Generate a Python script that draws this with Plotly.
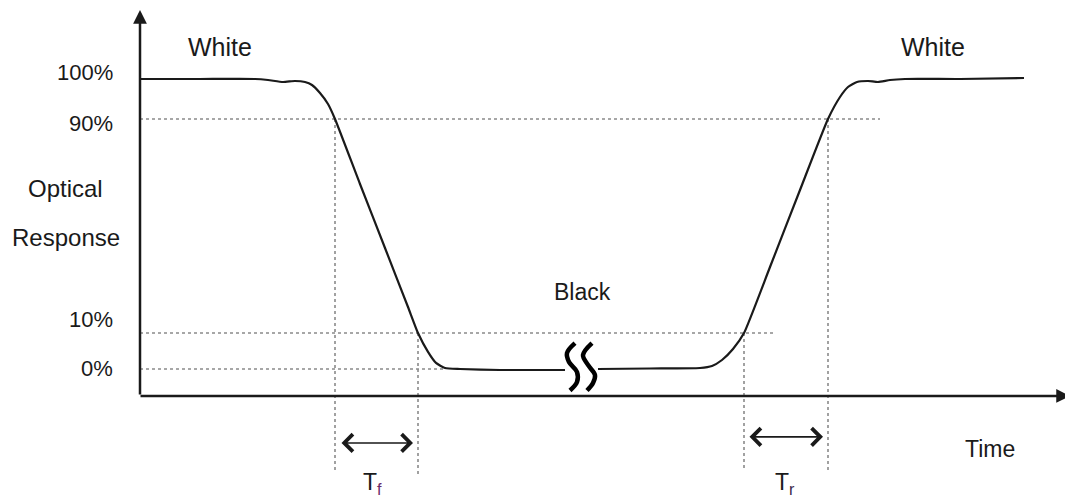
import plotly.graph_objects as go

# ---------------- data (schematic units: time t, optical response r in %) ----------------
fall_t = [0, 6, 11.5, 12.8, 14.3, 15.5, 16.5, 17.2, 18.0, 18.8, 19.5, 22.0, 24.5, 26.8, 27.8, 28.8, 29.6, 30.5, 32.0, 36.0, 42.5]
fall_r = [100, 100, 100, 99.66, 98.97, 99.31, 98.97, 97.93, 95.17, 91.38, 86.21, 63.79, 41.72, 21.38, 12.41, 5.9, 2.1, 0.34, 0.0, -0.34, -0.34]

rise_t = [45.8, 51.0, 56.0, 57.2, 58.2, 59.3, 60.4, 63.0, 66.0, 68.8, 70.0, 70.8, 71.7, 72.8, 73.8, 75.0, 76.5, 82.0, 88.4]
rise_r = [0.0, 0.17, 0.34, 1.03, 3.10, 6.90, 12.41, 35.17, 61.72, 86.21, 93.79, 97.24, 98.97, 99.31, 98.97, 99.66, 100, 100, 100.34]

# reference levels (response %) and where they sit on the schematic axis
level_labels = ["100%", "90%", "10%", "0%"]
level_pos = [100, 86.2, 12.4, 0]

# measurement markers
t90_fall, t10_fall = 19.5, 27.8
t10_rise, t90_rise = 60.4, 68.8

# break symbol strokes
brk1_t = [43.5, 42.7, 42.9, 43.7, 43.7, 43.0]
brk1_r = [8.9, 5.5, 2.4, -1.0, -4.5, -7.4]
brk2_t = [45.2, 44.3, 44.8, 45.5, 45.3, 44.7]
brk2_r = [8.9, 4.8, 1.4, -2.1, -4.8, -7.4]

# ---------------- figure ----------------
INK = "#1a1a1a"
DOT = "#8a8a8a"
FONT = "Liberation Sans, Arial, sans-serif"

fig = go.Figure()

def dotted(xs, ys):
    fig.add_trace(go.Scatter(x=xs, y=ys, mode="lines",
                             line=dict(color=DOT, width=1.6, dash="dot"),
                             hoverinfo="skip", showlegend=False))

# horizontal guides
dotted([0, 74.0], [level_pos[1], level_pos[1]])
dotted([0, 63.5], [level_pos[2], level_pos[2]])
dotted([0, 30.5], [level_pos[3], level_pos[3]])
# vertical guides
dotted([t90_fall, t90_fall], [level_pos[1], -35.2])
dotted([t10_fall, t10_fall], [level_pos[2], -36.2])
dotted([t10_rise, t10_rise], [level_pos[2], -35.2])
dotted([t90_rise, t90_rise], [level_pos[1], -35.2])

# response curve
for xs, ys in [(fall_t, fall_r), (rise_t, rise_r)]:
    fig.add_trace(go.Scatter(x=xs, y=ys, mode="lines",
                             line=dict(color=INK, width=2.2, shape="spline", smoothing=0.5),
                             hoverinfo="skip", showlegend=False))
# break symbol
for xs, ys in [(brk1_t, brk1_r), (brk2_t, brk2_r)]:
    fig.add_trace(go.Scatter(x=xs, y=ys, mode="lines",
                             line=dict(color="#000", width=4.5, shape="spline", smoothing=1.0),
                             hoverinfo="skip", showlegend=False))

ann = []
# axes arrows
ann.append(dict(x=0, y=123.8, ax=0, ay=-9.3, xref="x", yref="y", axref="x", ayref="y", text="",
                showarrow=True, arrowhead=2, arrowsize=1.1, arrowwidth=2.5, arrowcolor=INK))
ann.append(dict(x=93.0, y=-9.3, ax=-0.1, ay=-9.3, xref="x", yref="y", axref="x", ayref="y", text="",
                showarrow=True, arrowhead=2, arrowsize=1.1, arrowwidth=2.5, arrowcolor=INK))
# Tf / Tr double arrows
ann.append(dict(x=27.3, y=-25.5, ax=20.0, ay=-25.5, xref="x", yref="y", axref="x", ayref="y", text="",
                showarrow=True, arrowhead=4, startarrowhead=4, arrowside="end+start",
                arrowsize=2.1, startarrowsize=2.1, arrowwidth=1.6, arrowcolor=INK))
ann.append(dict(x=68.3, y=-23.4, ax=60.8, ay=-23.4, xref="x", yref="y", axref="x", ayref="y", text="",
                showarrow=True, arrowhead=4, startarrowhead=4, arrowside="end+start",
                arrowsize=2.1, startarrowsize=2.1, arrowwidth=1.6, arrowcolor=INK))

def label(text, x, y, xanchor="center", size=24):
    ann.append(dict(x=x, y=y, xref="x", yref="y", text=text, showarrow=False,
                    xanchor=xanchor, yanchor="middle", font=dict(family=FONT, size=size, color=INK)))

label_y = [102.4, 84.8, 16.9, 0.34]
for txt, yy in zip(level_labels, label_y):
    label(txt, -2.5, yy, xanchor="right", size=22)

label("White", 8.0, 111.0, size=25)
label("White", 79.3, 111.0, size=25)
label("Optical", -7.5, 62.1, size=24)
label("Response", -7.4, 45.2, size=24)
label("Black", 44.2, 26.6, size=23)
label("Time", 85.0, -27.6, size=23)
label("T<sub><span style='color:#6a2a6a'>f</span></sub>", 23.2, -39.6, size=23)
label("T<sub><span style='color:#3a2a4a'>r</span></sub>", 64.5, -39.6, size=23)

# the page adds an 8 px body margin, so the figure spans page pixels 8..1073 / 8..499
fig.update_layout(
    width=1065, height=491,
    margin=dict(l=0, r=0, t=0, b=0),
    paper_bgcolor="white", plot_bgcolor="white",
    xaxis=dict(range=[-13.2, 93.3], visible=False, fixedrange=True),
    yaxis=dict(range=[-44.83, 124.48], visible=False, fixedrange=True),
    annotations=ann,
    showlegend=False,
)

fig.write_html("out.html")
